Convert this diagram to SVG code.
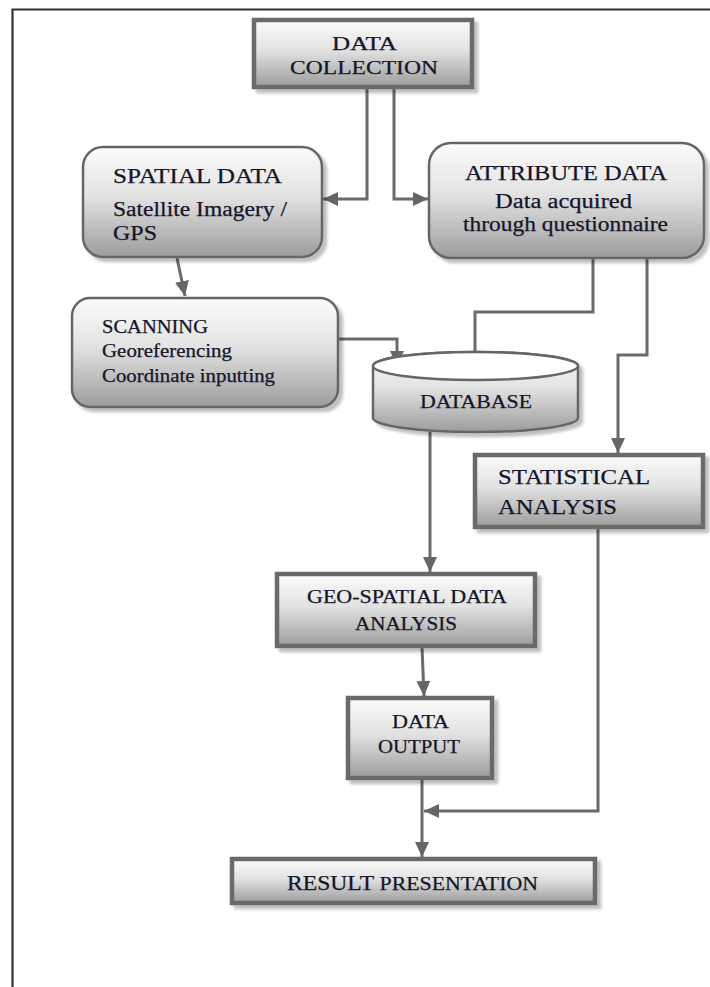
<svg xmlns="http://www.w3.org/2000/svg" width="710" height="987" viewBox="0 0 710 987">
<defs>
<linearGradient id="g" x1="0" y1="0" x2="0" y2="1">
<stop offset="0" stop-color="#fbfbfb"/>
<stop offset="0.45" stop-color="#e2e2e2"/>
<stop offset="1" stop-color="#9c9c9c"/>
</linearGradient>
<filter id="sh" x="-10%" y="-10%" width="130%" height="140%">
<feGaussianBlur in="SourceAlpha" stdDeviation="1.5"/>
<feOffset dx="4" dy="4" result="b"/>
<feComponentTransfer><feFuncA type="linear" slope="0.25"/></feComponentTransfer>
<feMerge><feMergeNode/><feMergeNode in="SourceGraphic"/></feMerge>
</filter>
<marker id="ah" markerUnits="userSpaceOnUse" markerWidth="16" markerHeight="16" viewBox="0 0 16 16" refX="15" refY="8" orient="auto">
<path d="M0,1 L15,8 L0,15 z" fill="#666"/>
</marker>
</defs>
<style>
.box{fill:url(#g);stroke:#6a6a6a;stroke-width:4.5;filter:url(#sh)}
.rbox{fill:url(#g);stroke:#666;stroke-width:2.5;filter:url(#sh)}
.t{font-family:"Liberation Serif","Times New Roman",serif;fill:#15152a;stroke:#15152a;stroke-width:0.25}
.c{text-anchor:middle}
.con{fill:none;stroke:#6a6a6a;stroke-width:3;marker-end:url(#ah)}
.frame{stroke:#333;stroke-width:2.2;fill:none}
</style>
<rect width="710" height="987" fill="#fff"/>
<path class="frame" d="M12.5,987 L12.5,9.5 L710,9.5"/>

<g id="connectors">
<path class="con" d="M367,87 L367,199 L323,199"/>
<path class="con" d="M394,87 L394,199 L428,199"/>
<path class="con" d="M177,258 L185,296"/>
<path class="con" d="M593,258 L593,312 L475,312 L475,366"/>
<path class="con" d="M647,258 L647,355 L618,355 L618,453"/>
<path class="con" d="M338,339 L397,339 L397,366"/>
<path class="con" d="M430,432 L430,572"/>
<path class="con" d="M422,647 L424,696"/>
<path class="con" d="M598,527 L598,811 L424,811"/>
<path class="con" d="M422,779 L422,857"/>
</g>

<g id="data-collection">
<rect class="box" x="254" y="20" width="218" height="67"/>
<text class="t c" x="364.5" y="50" font-size="19.5" textLength="65" lengthAdjust="spacingAndGlyphs">DATA</text>
<text class="t c" x="364" y="74" font-size="19.5" textLength="148" lengthAdjust="spacingAndGlyphs">COLLECTION</text>
</g>

<g id="spatial-data">
<rect class="rbox" x="83" y="147" width="239" height="110" rx="20"/>
<text class="t" x="113" y="183" font-size="20" textLength="169" lengthAdjust="spacingAndGlyphs">SPATIAL DATA</text>
<text class="t" x="113" y="216" font-size="20" textLength="174" lengthAdjust="spacingAndGlyphs">Satellite Imagery /</text>
<text class="t" x="113" y="240" font-size="20" textLength="44" lengthAdjust="spacingAndGlyphs">GPS</text>
</g>

<g id="attribute-data">
<rect class="rbox" x="429" y="143" width="275" height="115" rx="22"/>
<text class="t c" x="566" y="180" font-size="20" textLength="202" lengthAdjust="spacingAndGlyphs">ATTRIBUTE DATA</text>
<text class="t c" x="563.5" y="208" font-size="20" textLength="137" lengthAdjust="spacingAndGlyphs">Data acquired</text>
<text class="t c" x="565.5" y="231" font-size="20" textLength="205" lengthAdjust="spacingAndGlyphs">through questionnaire</text>
</g>

<g id="scanning">
<rect class="rbox" x="72" y="298" width="266" height="109" rx="18"/>
<text class="t" x="102" y="333" font-size="18" textLength="106" lengthAdjust="spacingAndGlyphs">SCANNING</text>
<text class="t" x="102" y="357" font-size="18" textLength="130" lengthAdjust="spacingAndGlyphs">Georeferencing</text>
<text class="t" x="102" y="382" font-size="18" textLength="173" lengthAdjust="spacingAndGlyphs">Coordinate inputting</text>
</g>

<g id="database">
<path class="rbox" d="M373,366 L373,418 A102.5,14 0 0 0 578,418 L578,366 A102.5,14 0 0 0 373,366 Z"/>
<ellipse cx="475.5" cy="366" rx="102.5" ry="14" fill="#fff" stroke="#666" stroke-width="2.5"/>
<text class="t c" x="476" y="408" font-size="18" textLength="112" lengthAdjust="spacingAndGlyphs">DATABASE</text>
</g>

<g id="statistical-analysis">
<rect class="box" x="475" y="455" width="228" height="72"/>
<text class="t" x="498" y="484" font-size="21" textLength="152" lengthAdjust="spacingAndGlyphs">STATISTICAL</text>
<text class="t" x="498" y="514" font-size="21" textLength="119" lengthAdjust="spacingAndGlyphs">ANALYSIS</text>
</g>

<g id="geo-spatial">
<rect class="box" x="277" y="574" width="258" height="72"/>
<text class="t c" x="407" y="603" font-size="18" textLength="200" lengthAdjust="spacingAndGlyphs">GEO-SPATIAL DATA</text>
<text class="t c" x="406" y="630" font-size="18" textLength="102" lengthAdjust="spacingAndGlyphs">ANALYSIS</text>
</g>

<g id="data-output">
<rect class="box" x="348" y="698" width="144" height="80"/>
<text class="t c" x="420.5" y="728" font-size="18" textLength="57" lengthAdjust="spacingAndGlyphs">DATA</text>
<text class="t c" x="419" y="753" font-size="18" textLength="82" lengthAdjust="spacingAndGlyphs">OUTPUT</text>
</g>

<g id="result-presentation">
<rect class="box" x="232" y="859" width="363" height="44"/>
<text class="t c" x="412.5" y="890" font-size="18.5" textLength="251" lengthAdjust="spacingAndGlyphs"><tspan font-size="20">RESULT</tspan> PRESENTATION</text>
</g>
</svg>
